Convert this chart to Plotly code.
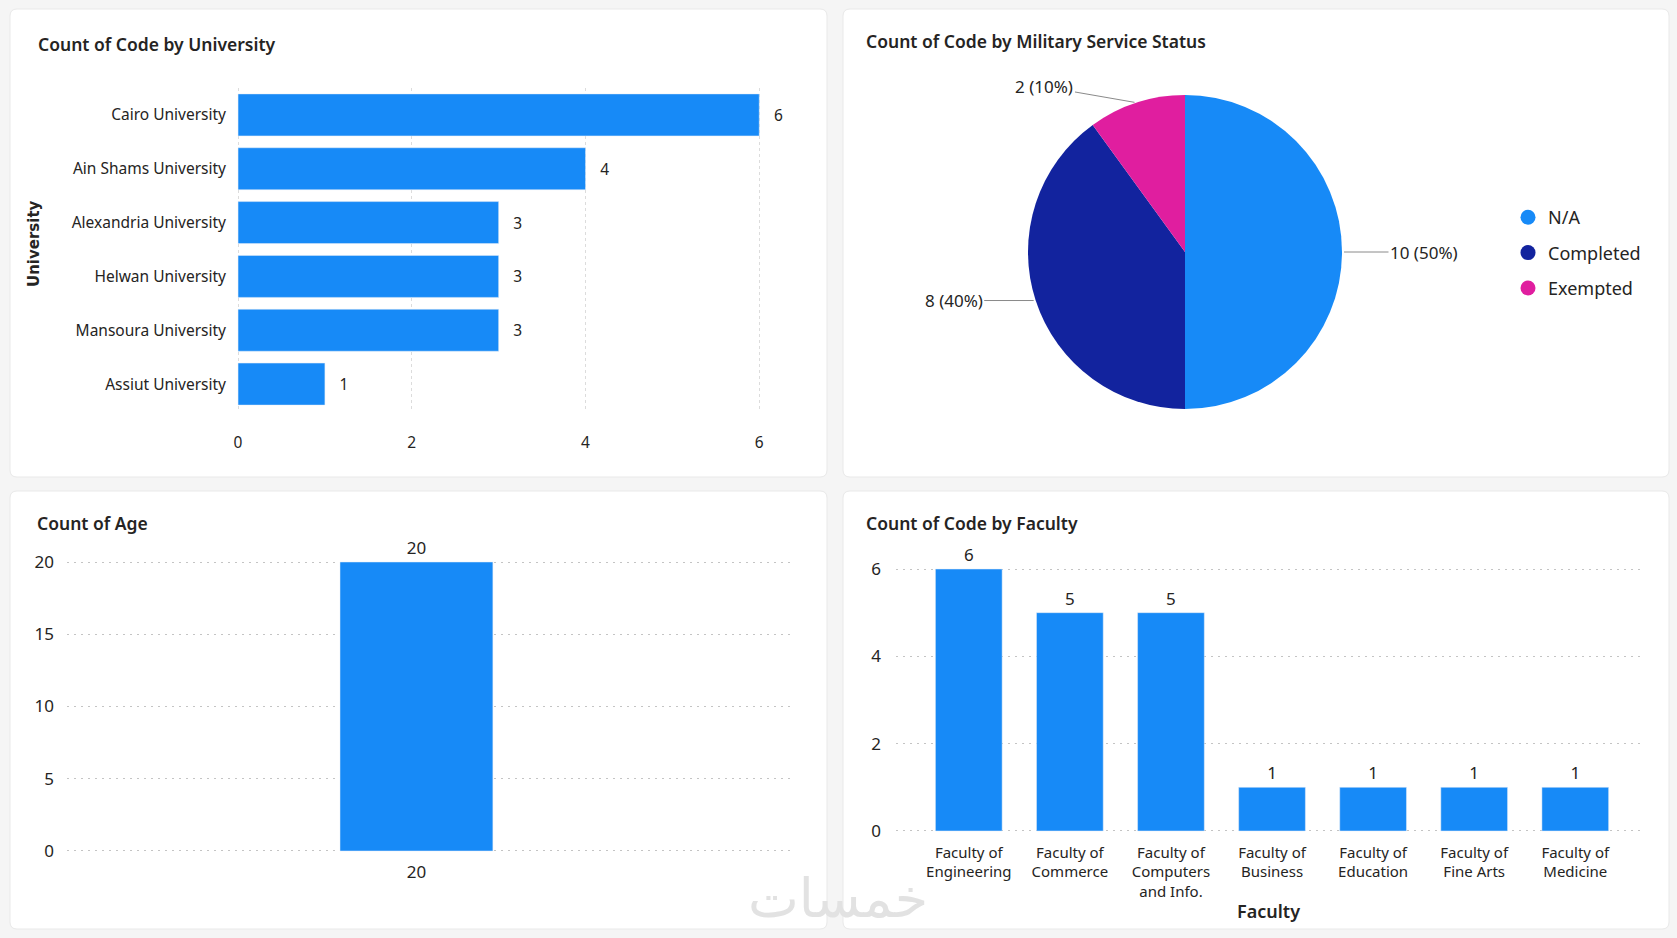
import numpy as np
import plotly.graph_objects as go

W, H = 1677, 938

universities = ['Cairo University', 'Ain Shams University', 'Alexandria University',
                'Helwan University', 'Mansoura University', 'Assiut University']
uni_counts = [6, 4, 3, 3, 3, 1]

military_status = ['N/A', 'Completed', 'Exempted']
military_counts = [10, 8, 2]

ages = ['20']
age_counts = [20]

faculties = ['Faculty of<br>Engineering', 'Faculty of<br>Commerce', 'Faculty of<br>Computers<br>and Info.',
             'Faculty of<br>Business', 'Faculty of<br>Education', 'Faculty of<br>Fine Arts',
             'Faculty of<br>Medicine']
faculty_counts = [6, 5, 5, 1, 1, 1, 1]

BLUE = '#178AF7'
pie_colors = ['#178AF7', '#12239E', '#E01E9F']
TXT = '#252423'
FONT = 'Noto Sans'


def px_x(x):
    return x / W


def px_y(y):
    return 1 - y / H


def card_path(x0, y0, x1, y1, r=7):
    # rounded rectangle in paper units, built from pixel corners
    a, b = px_x(x0), px_x(x1)
    c, d = px_y(y1), px_y(y0)
    rx, ry = r / W, r / H
    return (f'M {a + rx},{c} L {b - rx},{c} Q {b},{c} {b},{c + ry} '
            f'L {b},{d - ry} Q {b},{d} {b - rx},{d} L {a + rx},{d} Q {a},{d} {a},{d - ry} '
            f'L {a},{c + ry} Q {a},{c} {a + rx},{c} Z')


fig = go.Figure()

# --- Count of Code by University
fig.add_trace(go.Bar(
    y=universities, x=uni_counts, orientation='h', xaxis='x', yaxis='y',
    marker_color=BLUE, width=0.78, text=uni_counts, texttemplate='\u2002\u2005%{text}',
    textposition='outside', cliponaxis=False, constraintext='none',
    textfont=dict(family=FONT, size=15.5, color=TXT), showlegend=False))

# --- Count of Code by Military Service Status
pie_box = (1028, 95, 1342, 409)
fig.add_trace(go.Pie(
    labels=military_status, values=military_counts, sort=False, direction='clockwise',
    rotation=0, textinfo='none', marker=dict(colors=pie_colors),
    domain=dict(x=[px_x(pie_box[0]), px_x(pie_box[2])], y=[px_y(pie_box[3]), px_y(pie_box[1])]),
    showlegend=False, hoverinfo='label+value+percent'))

for name, col in zip(military_status, pie_colors):
    fig.add_trace(go.Scatter(
        x=[None], y=[None], mode='markers', name=name, legendgroup=name,
        marker=dict(size=15, color=col, symbol='circle'), xaxis='x5', yaxis='y5'))

# --- Count of Age
fig.add_trace(go.Bar(
    x=ages, y=age_counts, xaxis='x3', yaxis='y3', marker_color=BLUE, width=0.21,
    text=age_counts, textposition='outside', cliponaxis=False, constraintext='none',
    textfont=dict(family=FONT, size=17, color=TXT), showlegend=False))

# --- Count of Code by Faculty
fig.add_trace(go.Bar(
    x=faculties, y=faculty_counts, xaxis='x4', yaxis='y4', marker_color=BLUE, width=0.66,
    text=faculty_counts, textposition='outside', cliponaxis=False, constraintext='none',
    textfont=dict(family=FONT, size=17, color=TXT), showlegend=False))

tick_font = dict(family=FONT, size=15.5, color=TXT)
fac_font = dict(family=FONT, size=15, color=TXT)
big_tick = dict(family=FONT, size=17, color=TXT)
DOTS = '2px,5px'

# ranges are padded a little so the grid lines at both ends still get drawn
fig.update_layout(
    width=W, height=H, margin=dict(l=0, r=0, t=0, b=0, autoexpand=False),
    paper_bgcolor='#f5f5f5', plot_bgcolor='rgba(0,0,0,0)',
    font=dict(family=FONT, color=TXT),
    xaxis=dict(domain=[px_x(237), px_x(794)], range=[-0.012, 6.4], dtick=2, showgrid=True,
               griddash='3px,3px', gridcolor='#dcdcdc', zeroline=False, showline=False,
               tickfont=tick_font, ticklabelstandoff=20, anchor='y'),
    yaxis=dict(domain=[px_y(411), px_y(88)], autorange='reversed', showgrid=False,
               tickfont=tick_font, ticklabelstandoff=10, anchor='x'),
    xaxis3=dict(domain=[px_x(67), px_x(795)], type='category', range=[-0.48, 0.52],
                showgrid=False, zeroline=False, tickfont=big_tick, ticklabelstandoff=8,
                anchor='y3'),
    yaxis3=dict(domain=[px_y(852), px_y(561)], range=[-0.07, 20.07], dtick=5, showgrid=True,
                griddash=DOTS, gridcolor='#c4c4c4', zeroline=False, tickfont=big_tick,
                ticklabelstandoff=12, anchor='x3'),
    xaxis4=dict(domain=[px_x(896), px_x(1643)], type='category', range=[-0.72, 6.67],
                showgrid=False, zeroline=False, tickfont=fac_font, ticklabelstandoff=8,
                anchor='y4'),
    yaxis4=dict(domain=[px_y(833.6), px_y(566.4)], range=[-0.06, 6.06], dtick=2,
                showgrid=True, griddash=DOTS, gridcolor='#c4c4c4', zeroline=False,
                tickfont=big_tick, ticklabelstandoff=14, anchor='x4'),
    xaxis5=dict(domain=[0.99, 1], visible=False, anchor='y5'),
    yaxis5=dict(domain=[0.99, 1], visible=False, anchor='x5'),
    legend=dict(x=px_x(1508), y=px_y(199), xanchor='left', yanchor='top',
                font=dict(family=FONT, size=18, color=TXT), tracegroupgap=9,
                bgcolor='rgba(0,0,0,0)', itemclick=False),
)

# cards
for box in [(10, 9, 827, 477), (843, 9, 1669, 477), (10, 491, 827, 929), (843, 491, 1669, 929)]:
    fig.add_shape(type='path', path=card_path(*box), xref='paper', yref='paper',
                  fillcolor='white', line=dict(color='#e9e9e9', width=1), layer='below')

# titles
titles = [('Count of Code by University', 36, 44), ('Count of Code by Military Service Status', 864, 41),
          ('Count of Age', 35, 523), ('Count of Code by Faculty', 864, 523)]
for txt, x, y in titles:
    fig.add_annotation(text=txt, x=px_x(x), y=px_y(y), xref='paper', yref='paper',
                       xanchor='left', yanchor='middle', showarrow=False,
                       font=dict(family=FONT, size=17.5, color=TXT, weight=600))

fig.add_annotation(text='University', x=px_x(34), y=px_y(244), xref='paper', yref='paper',
                   xanchor='center', yanchor='middle', textangle=-90, showarrow=False,
                   font=dict(family='DejaVu Sans', size=15, color=TXT, weight='bold'))
fig.add_annotation(text='Faculty', x=px_x(1268), y=px_y(911), xref='paper', yref='paper',
                   xanchor='center', yanchor='middle', showarrow=False,
                   font=dict(family=FONT, size=18, color=TXT, weight=600))

# pie data labels with leader lines, anchored on the slice mid-angles
label_offsets = [(82, 0), (-82, 0), (-92, -16)]
cx = (pie_box[0] + pie_box[2]) / 2
cy = (pie_box[1] + pie_box[3]) / 2
rad = (pie_box[2] - pie_box[0]) / 2
vals = np.array(military_counts, dtype=float)
share = vals / vals.sum()
mid = (np.cumsum(share) - share / 2) * 2 * np.pi
for v, s, ang, (ax, ay) in zip(military_counts, share, mid, label_offsets):
    ex = cx + rad * np.sin(ang)
    ey = cy - rad * np.cos(ang)
    fig.add_annotation(text=f'{v} ({s:.0%})', x=px_x(ex), y=px_y(ey), xref='paper', yref='paper',
                       showarrow=True, arrowhead=0, arrowwidth=1, arrowcolor='#8a8a8a',
                       ax=ax, ay=ay, standoff=2,
                       font=dict(family=FONT, size=17, color=TXT))

# watermark
fig.add_annotation(text='خمسات', x=px_x(838), y=px_y(898), xref='paper', yref='paper',
                   xanchor='center', yanchor='middle', showarrow=False,
                   font=dict(family='DejaVu Sans', size=54, color='#e2e2e2'))

fig.write_html('out.html', config={'displayModeBar': False},
               post_script="document.body.style.margin='0';")
